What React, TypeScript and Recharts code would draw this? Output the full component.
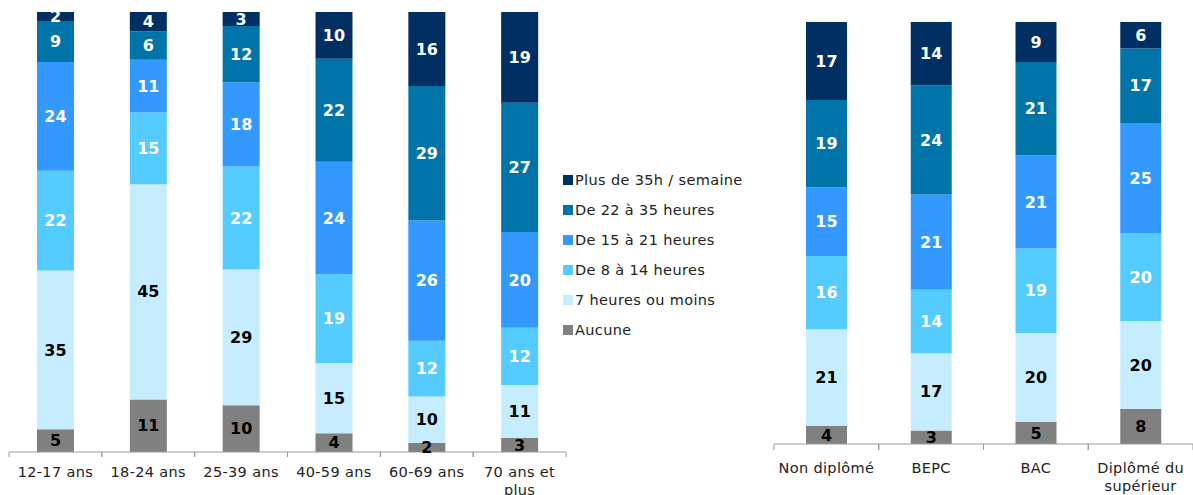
import React from 'react';
import { BarChart, Bar, XAxis, YAxis, LabelList } from 'recharts';

const ageCategories = ['12-17 ans', '18-24 ans', '25-39 ans', '40-59 ans', '60-69 ans', '70 ans et\nplus'];
const ageAucune = [5, 11, 10, 4, 2, 3];
const age7h = [35, 45, 29, 15, 10, 11];
const age8a14 = [22, 15, 22, 19, 12, 12];
const age15a21 = [24, 11, 18, 24, 26, 20];
const age22a35 = [9, 6, 12, 22, 29, 27];
const agePlus35 = [2, 4, 3, 10, 16, 19];

const eduCategories = ['Non diplômé', 'BEPC', 'BAC', 'Diplômé du\nsupérieur'];
const eduAucune = [4, 3, 5, 8];
const edu7h = [21, 17, 20, 20];
const edu8a14 = [16, 14, 19, 20];
const edu15a21 = [15, 21, 21, 25];
const edu22a35 = [19, 24, 21, 17];
const eduPlus35 = [17, 14, 9, 6];

const seriesNames = [
  'Aucune',
  '7 heures ou moins',
  'De 8 à 14 heures',
  'De 15 à 21 heures',
  'De 22 à 35 heures',
  'Plus de 35h / semaine',
];
const seriesKeys = ['aucune', 'h7', 'h8', 'h15', 'h22', 'h35'];
const seriesColors = ['#808080', '#C6EDFF', '#55CCFF', '#3399FF', '#0074A8', '#003063'];
const labelColors = ['#000000', '#000000', '#FFFFFF', '#FFFFFF', '#FFFFFF', '#FFFFFF'];

const FONT = '"DejaVu Sans", Verdana, sans-serif';

function buildRows(cats: string[], cols: number[][]) {
  return cats.map((name, i) => {
    const row: Record<string, any> = { name };
    seriesKeys.forEach((k, s) => {
      row[k] = cols[s][i];
    });
    return row;
  });
}

const ageData = buildRows(ageCategories, [ageAucune, age7h, age8a14, age15a21, age22a35, agePlus35]);
const eduData = buildRows(eduCategories, [eduAucune, edu7h, edu8a14, edu15a21, edu22a35, eduPlus35]);

function makeTick(band: number, tickLen: number, textOffset: number) {
  return function Tick(props: any) {
    const { x, y, payload } = props;
    const lines = String(payload.value).split('\n');
    const top = y - 8;
    return (
      <g>
        <line x1={x - band / 2} x2={x - band / 2} y1={top} y2={top + tickLen} stroke="#999" />
        <line x1={x + band / 2} x2={x + band / 2} y1={top} y2={top + tickLen} stroke="#999" />
        <text
          x={x}
          y={top + textOffset}
          textAnchor="middle"
          fontSize={14.5}
          letterSpacing={0.35}
          fontFamily={FONT}
          fill="#222"
        >
          {lines.map((l, i) => (
            <tspan key={i} x={x} dy={i === 0 ? 0 : 18}>
              {l}
            </tspan>
          ))}
        </text>
      </g>
    );
  };
}

function StackChart({
  data,
  width,
  height,
  margin,
  axisHeight,
  barSize,
  band,
  tickLen,
  textOffset,
}: {
  data: any[];
  width: number;
  height: number;
  margin: any;
  axisHeight: number;
  barSize: number;
  band: number;
  tickLen: number;
  textOffset: number;
}) {
  return (
    <BarChart width={width} height={height} data={data} margin={margin} stackOffset="expand">
      <XAxis
        dataKey="name"
        height={axisHeight}
        axisLine={{ stroke: '#999' }}
        tickLine={false}
        interval={0}
        tick={makeTick(band, tickLen, textOffset)}
      />
      <YAxis hide domain={[0, 1]} />
      {seriesKeys.map((k, s) => (
        <Bar key={k} dataKey={k} stackId="a" fill={seriesColors[s]} barSize={barSize} isAnimationActive={false}>
          <LabelList
            dataKey={k}
            position="center"
            fill={labelColors[s]}
            fontSize={16}
            fontWeight="bold"
            fontFamily={FONT}
          />
        </Bar>
      ))}
    </BarChart>
  );
}

function Legend() {
  const items = seriesNames.map((n, i) => ({ n, c: seriesColors[i] })).reverse();
  return (
    <div
      style={{
        position: 'absolute',
        left: 563,
        top: 165,
        fontFamily: FONT,
        fontSize: 14.5,
        letterSpacing: 0.35,
        color: '#222',
      }}
    >
      {items.map((it) => (
        <div key={it.n} style={{ display: 'flex', alignItems: 'center', height: 30, whiteSpace: 'nowrap' }}>
          <span style={{ display: 'inline-block', width: 10, height: 10, background: it.c, marginRight: 2 }} />
          <span>{it.n}</span>
        </div>
      ))}
    </div>
  );
}

export default function App() {
  return (
    <div
      style={{ position: 'absolute', left: 0, top: 0, width: 1193, height: 495, background: '#fff', overflow: 'hidden' }}
    >
      <div style={{ position: 'absolute', left: 0, top: 0 }}>
        <StackChart
          data={ageData}
          width={570}
          height={495}
          margin={{ top: 12, right: 4, left: 9, bottom: 0 }}
          axisHeight={43}
          barSize={37}
          band={557 / 6}
          tickLen={5}
          textOffset={25}
        />
      </div>
      <Legend />
      <div style={{ position: 'absolute', left: 760, top: 0 }}>
        <StackChart
          data={eduData}
          width={433}
          height={495}
          margin={{ top: 22, right: 0, left: 14, bottom: 0 }}
          axisHeight={51}
          barSize={41}
          band={419 / 4}
          tickLen={6}
          textOffset={29}
        />
      </div>
    </div>
  );
}
